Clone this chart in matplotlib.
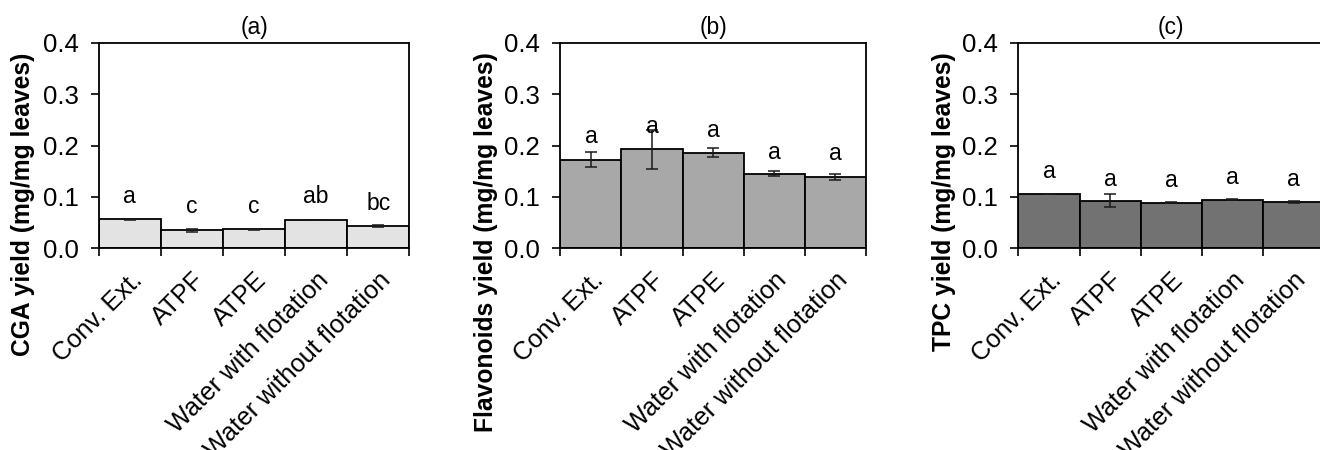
import numpy as np
import matplotlib.pyplot as plt

plt.rcParams['font.family'] = ['Liberation Sans', 'DejaVu Sans']

categories = ['Conv. Ext.', 'ATPF', 'ATPE', 'Water with flotation', 'Water without flotation']

# (a) CGA
cga = [0.057, 0.035, 0.037, 0.055, 0.044]
cga_err = [0.001, 0.003, 0.0005, 0.0005, 0.002]
cga_letters = ['a', 'c', 'c', 'ab', 'bc']
cga_letter_y = [0.100, 0.081, 0.081, 0.101, 0.088]

# (b) flavonoids
flav = [0.173, 0.193, 0.186, 0.145, 0.139]
flav_err = [0.015, 0.038, 0.009, 0.005, 0.006]
flav_letters = ['a', 'a', 'a', 'a', 'a']
flav_letter_y = [0.218, 0.237, 0.229, 0.187, 0.184]

# (c) TPC
tpc = [0.106, 0.093, 0.089, 0.095, 0.090]
tpc_err = [0.0005, 0.0125, 0.0005, 0.0005, 0.002]
tpc_letters = ['a', 'a', 'a', 'a', 'a']
tpc_letter_y = [0.149, 0.135, 0.133, 0.138, 0.134]

panels = [
    ('(a)', 'CGA yield (mg/mg leaves)', cga, cga_err, cga_letters, cga_letter_y, '#e3e3e3'),
    ('(b)', 'Flavonoids yield (mg/mg leaves)', flav, flav_err, flav_letters, flav_letter_y, '#a8a8a8'),
    ('(c)', 'TPC yield (mg/mg leaves)', tpc, tpc_err, tpc_letters, tpc_letter_y, '#727272'),
]
boxes = [[0.0748, 0.4482, 0.2353, 0.4563],
         [0.4245, 0.4482, 0.2316, 0.4563],
         [0.7715, 0.4482, 0.2316, 0.4563]]

fig = plt.figure(figsize=(13.2, 4.5), dpi=100)
x = np.arange(len(categories))

for box, (title, ylab, vals, errs, letters, ly, col) in zip(boxes, panels):
    ax = fig.add_axes(box)
    ax.bar(x, vals, width=1.0, color=col, edgecolor='black', linewidth=1.3, zorder=2)
    ax.errorbar(x, vals, yerr=errs, fmt='none', ecolor='#1a1a1a', elinewidth=1.1,
                capsize=4.5, capthick=1.1, zorder=3)
    for xi, yi, t in zip(x, ly, letters):
        ax.text(xi, yi, t, ha='center', va='center', fontsize=16.5)
    ax.set_xlim(-0.5, len(categories) - 0.5)
    ax.set_ylim(0, 0.4)
    ax.set_yticks([0.0, 0.1, 0.2, 0.3, 0.4])
    ax.set_yticklabels(['0.0', '0.1', '0.2', '0.3', '0.4'])
    # ticks on the bar edges, names under the bar centres
    ax.set_xticks(np.arange(len(categories) + 1) - 0.5)
    ax.set_xticklabels([])
    ax.set_xticks(x, minor=True)
    ax.set_xticklabels(categories, minor=True, rotation=45, ha='right',
                       rotation_mode='anchor', fontsize=18.3)
    ax.tick_params(axis='x', which='minor', length=0, pad=14)
    ax.tick_params(axis='x', which='major', length=6, width=1.2, direction='out')
    ax.tick_params(axis='y', length=6, width=1.2, direction='out', labelsize=18.5, pad=8.5)
    for sp in ax.spines.values():
        sp.set_linewidth(1.3)
    ax.set_title(title, fontsize=16.5, pad=6.5)
    ax.set_ylabel(ylab, fontsize=17.7, fontweight='bold', loc='top')
    ax.yaxis.set_label_coords(-0.205, 0.955)

fig.savefig('out.png', dpi=100)
